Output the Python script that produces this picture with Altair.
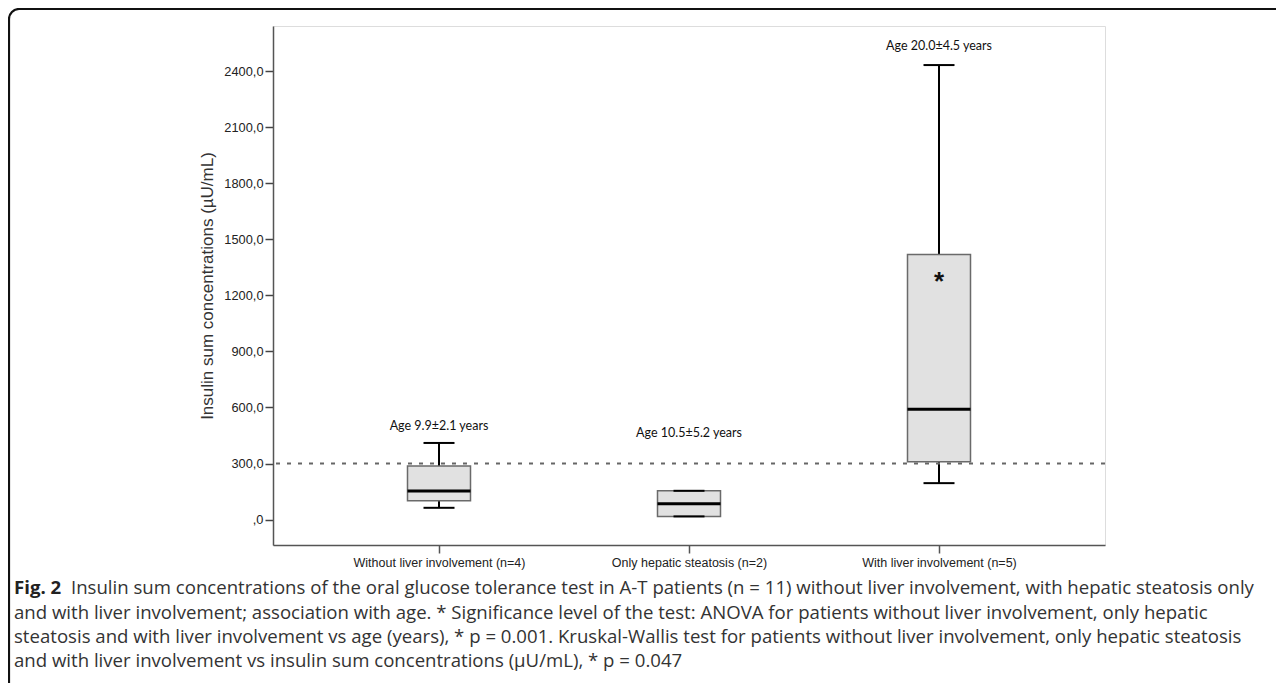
import altair as alt
import pandas as pd

# ---- data ----
groups = ["Without liver involvement (n=4)", "Only hepatic steatosis (n=2)", "With liver involvement (n=5)"]
lower = [63, 17, 195]
q1 = [101, 17, 310]
median = [153, 85, 590]
q3 = [287, 154, 1418]
upper = [410, 154, 2432]

age_labels = ["Age 9.9±2.1 years", "Age 10.5±5.2 years", "Age 20.0±4.5 years"]
age_label_y = [500, 464, 2535]

marker_group = ["With liver involvement (n=5)"]
marker_value = [1300]
marker_text = ["*"]

reference_line = [300]
y_ticks = [0, 300, 600, 900, 1200, 1500, 1800, 2100, 2400]

caption_bold = "Fig. 2"
caption_lines = [
    "Insulin sum concentrations of the oral glucose tolerance test in A-T patients (n = 11) without liver involvement, with hepatic steatosis only",
    "and with liver involvement; association with age. * Significance level of the test: ANOVA for patients without liver involvement, only hepatic",
    "steatosis and with liver involvement vs age (years), * p = 0.001. Kruskal-Wallis test for patients without liver involvement, only hepatic steatosis",
    "and with liver involvement vs insulin sum concentrations (µU/mL), * p = 0.047",
]

W, H = 832, 519

df = pd.DataFrame({"group": groups, "lower": lower, "q1": q1, "median": median, "q3": q3, "upper": upper,
                   "age": age_labels, "age_y": age_label_y})
caps = pd.DataFrame({"group": groups + groups, "v": upper + lower})
mk = pd.DataFrame({"group": marker_group, "v": marker_value, "t": marker_text})
ref = pd.DataFrame({"v": reference_line})
one = pd.DataFrame({"a": [0]})

xscale = alt.Scale(type="point", domain=groups, padding=0.664)
yscale = alt.Scale(domain=[-136, 2641], nice=False, zero=False)

X = alt.X("group:N", scale=xscale, sort=groups,
          axis=alt.Axis(title=None, labelAngle=0, labelFont="Liberation Sans", labelFontSize=12.5,
                        labelColor="#222", tickSize=8, tickColor="#555", tickWidth=1.5,
                        domainColor="#555", domainWidth=1.5, labelPadding=3, grid=False))
Yaxis = alt.Axis(title="Insulin sum concentrations (µU/mL)", values=y_ticks,
                 labelExpr="datum.value == 0 ? ',0' : replace(format(datum.value, '.1f'), '.', ',')",
                 labelFont="Liberation Sans", labelFontSize=12.8, labelColor="#222",
                 tickSize=8, tickColor="#444", tickWidth=1.5, domainColor="#555", domainWidth=1.5,
                 labelPadding=2, titleFont="Liberation Sans", titleFontSize=17, titleFontWeight="normal",
                 titleColor="#333", titlePadding=7, grid=False)

base = alt.Chart(df)

frame = alt.Chart(one).mark_rect(fillOpacity=0, stroke="#111", strokeWidth=2.2, cornerRadius=10).encode(
    x=alt.value(-264), x2=alt.value(W + 200), y=alt.value(-17), y2=alt.value(H + 200))

whisk_lo = base.mark_rule(color="black", strokeWidth=2).encode(
    x=X, y=alt.Y("lower:Q", scale=yscale, axis=Yaxis), y2="q1:Q")
whisk_hi = base.mark_rule(color="black", strokeWidth=2).encode(x=X, y=alt.Y("q3:Q", scale=yscale), y2="upper:Q")
box = base.mark_bar(size=63, color="#e1e1e1", stroke="#6a6a6a", strokeWidth=1.5).encode(
    x=X, y=alt.Y("q1:Q", scale=yscale), y2="q3:Q")
med = base.mark_tick(orient="horizontal", size=63, thickness=3, color="black", opacity=1).encode(
    x=X, y=alt.Y("median:Q", scale=yscale))
cap = alt.Chart(caps).mark_tick(orient="horizontal", size=31, thickness=2, color="black", opacity=1).encode(
    x=X, y=alt.Y("v:Q", scale=yscale))
dotted = alt.Chart(ref).mark_rule(strokeDash=[4, 7], color="#666", strokeWidth=2).encode(
    y=alt.Y("v:Q", scale=yscale))
ages = base.mark_text(font="Lato", fontSize=12.5, color="#111", baseline="middle").encode(
    x=X, y=alt.Y("age_y:Q", scale=yscale), text="age:N")
star = alt.Chart(mk).mark_text(font="Liberation Sans", fontSize=26, fontWeight="bold", color="#111",
                               baseline="middle", dy=5).encode(
    x=X, y=alt.Y("v:Q", scale=yscale), text="t:N")

fig = alt.Chart(one).mark_text(font="Open Sans", fontSize=18.6, fontWeight="bold", color="#222", align="left",
                               baseline="middle").encode(
    x=alt.value(-259), y=alt.value(562), text=alt.value(caption_bold))
cap_layers = []
cap_x = [-202, -259, -259, -259]
cap_y = [562, 587, 611, 635]
for line, cx, cy in zip(caption_lines, cap_x, cap_y):
    cap_layers.append(alt.Chart(one).mark_text(font="Open Sans", fontSize=18.6, color="#333", align="left",
                                               baseline="middle").encode(
        x=alt.value(cx), y=alt.value(cy), text=alt.value(line)))

chart = alt.layer(frame, whisk_lo, whisk_hi, box, med, cap, dotted, ages, star, fig, *cap_layers).properties(
    width=W, height=H,
    padding={"left": 265, "top": 18, "right": 171, "bottom": 138},
    autosize=alt.AutoSizeParams(type="none"),
).configure_view(stroke="#555", strokeWidth=1.5).configure(background="white")

chart.save("out.html", embed_options={"renderer": "svg", "actions": False})
